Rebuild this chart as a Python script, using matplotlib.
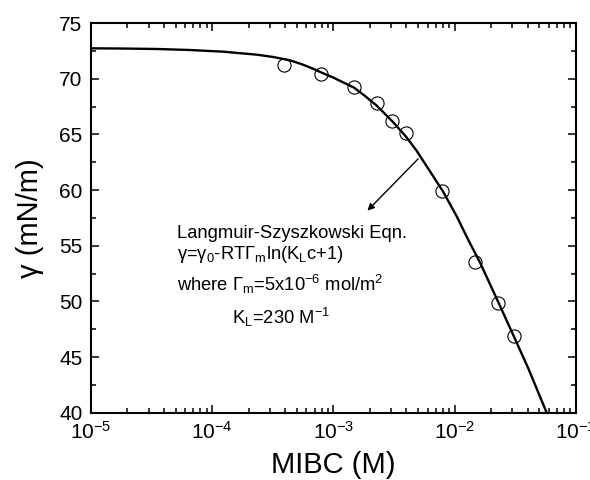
import matplotlib.pyplot as plt
from matplotlib.ticker import LogLocator, MultipleLocator, NullFormatter

plt.rcParams['font.family'] = ['Liberation Sans', 'DejaVu Sans']
plt.rcParams['mathtext.default'] = 'regular'

# measured surface tension of MIBC solutions
conc = [3.9e-4, 7.9e-4, 1.48e-3, 2.27e-3, 3.05e-3, 3.96e-3, 7.9e-3, 1.47e-2, 2.26e-2, 3.1e-2]
gamma = [71.2, 70.45, 69.25, 67.8, 66.2, 65.1, 59.9, 53.5, 49.85, 46.9]

# Langmuir-Szyszkowski fit line
fit_conc = [1e-5, 1.85e-5, 3.5e-5, 6.5e-5, 1.23e-4, 2.33e-4, 3.2e-4, 4.4e-4, 5.5e-4,
            6.8e-4, 7.8e-4, 1.0e-3, 1.48e-3, 1.8e-3, 2.27e-3, 3.05e-3, 3.94e-3,
            4.85e-3, 6.65e-3, 8.05e-3, 1.04e-2, 1.3e-2, 1.62e-2, 2.29e-2, 3.04e-2,
            4.05e-2, 5.8e-2]
fit_gamma = [72.73, 72.71, 72.67, 72.58, 72.43, 72.16, 71.95, 71.65, 71.3,
             70.9, 70.6, 70.1, 69.2, 68.5, 67.6, 66.2, 64.85,
             63.55, 61.25, 59.85, 57.65, 55.5, 53.5, 49.95, 47.0,
             44.0, 39.9]

fig = plt.figure(figsize=(5.9, 4.8), dpi=100)
ax = fig.add_axes([0.154, 0.140, 0.822, 0.812])

ax.plot(fit_conc, fit_gamma, color='black', lw=1.7, solid_joinstyle='round')
ax.plot(conc, gamma, 'o', mfc='none', mec='black', mew=0.8, ms=9.5)

ax.set_xscale('log')
ax.set_xlim(1e-5, 1e-1)
ax.set_ylim(40, 75)
ax.yaxis.set_major_locator(MultipleLocator(5))
ax.yaxis.set_minor_locator(MultipleLocator(2.5))
ax.xaxis.set_major_locator(LogLocator(base=10, numticks=10))
ax.xaxis.set_minor_locator(LogLocator(base=10, subs=range(2, 10), numticks=50))
ax.xaxis.set_minor_formatter(NullFormatter())

ax.tick_params(which='both', direction='in', top=True, right=True, width=1.1, labelsize=15)
ax.tick_params(which='major', length=6, pad=6)
ax.tick_params(which='minor', length=3.5)
for s in ax.spines.values():
    s.set_linewidth(1.5)

ax.set_xlabel('MIBC (M)', fontsize=21, labelpad=5.5)
ax.set_ylabel('γ (mN/m)', fontsize=21, labelpad=11)

ax.annotate('', xy=(1.91e-3, 58.15), xytext=(5.0e-3, 62.8),
            arrowprops=dict(arrowstyle='-|>', color='black', lw=1.0,
                            mutation_scale=10, shrinkA=0, shrinkB=0))

tx = 177 / 590
fs = 13.2
fig.text(tx, 1 - 238 / 480, 'Langmuir-Szyszkowski Eqn.', fontsize=fs, va='baseline')
fig.text(tx, 1 - 259 / 480, 'γ=γ$_0$-RTΓ$_m$ln(K$_L$c+1)', fontsize=fs, va='baseline')
fig.text(tx, 1 - 291 / 480, 'where Γ$_m$=5x10$^{-6}$ mol/m$^2$', fontsize=fs, va='baseline')
fig.text(232 / 590, 1 - 324 / 480, 'K$_L$=230 M$^{-1}$', fontsize=fs, va='baseline')

fig.savefig('out.png', dpi=100)
